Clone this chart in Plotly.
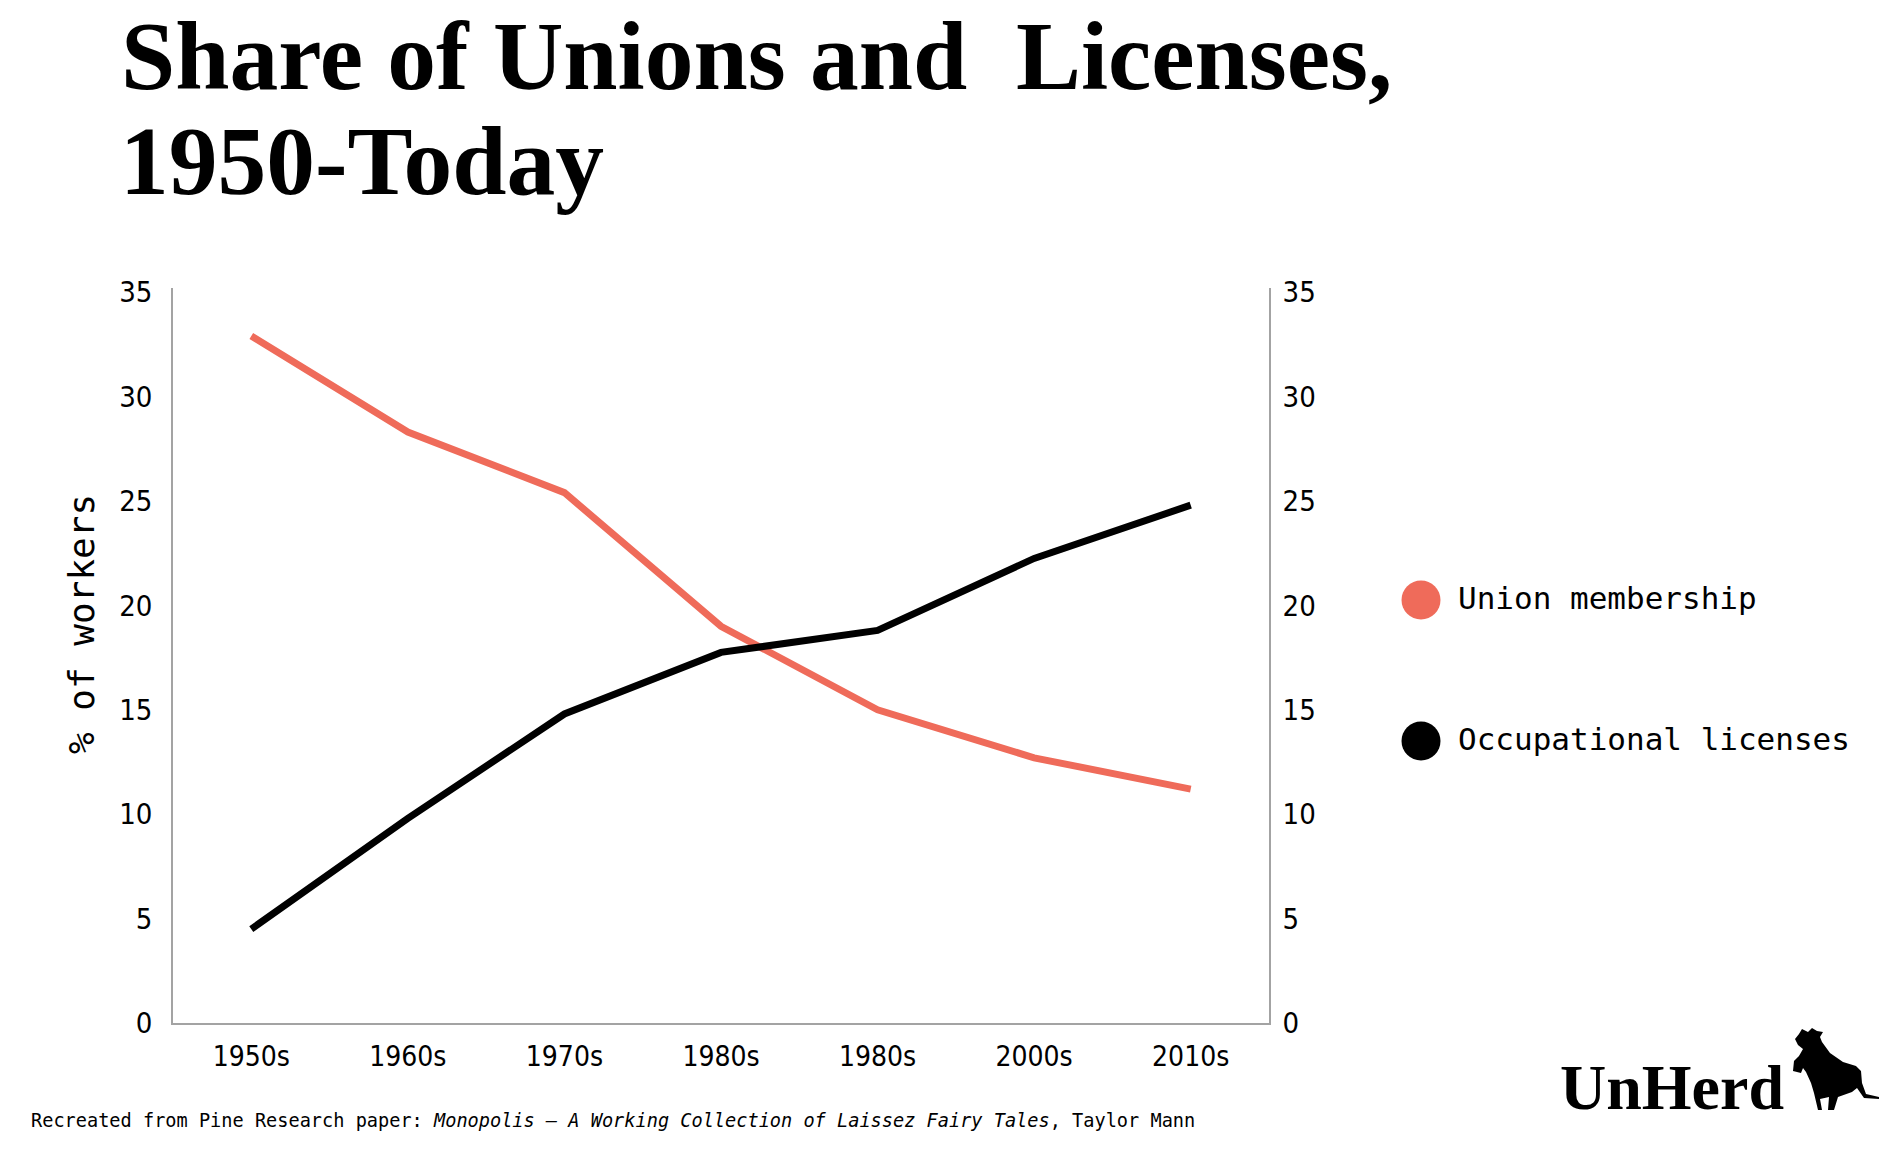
import plotly.graph_objects as go

# ---- data ----
decades = ["1950s", "1960s", "1970s", "1980s", "1980s", "2000s", "2010s"]
union_membership = [32.9, 28.3, 25.4, 19.0, 15.0, 12.7, 11.2]
occupational_licenses = [4.5, 9.8, 14.8, 17.75, 18.8, 22.25, 24.8]
y_ticks = [0, 5, 10, 15, 20, 25, 30, 35]
series_names = ["Union membership", "Occupational licenses"]

# ---- layout geometry (pixels) ----
W, H = 1893, 1168
L, R, T, B = 173, 1269, 288, 1023

def px(x):
    return (x - L) / (R - L)

def py(y):
    return (B - y) / (B - T)

RED = "#ef6b5a"
BLACK = "#000000"
AXIS = "#a3a3a3"
TICK_FONT = "DejaVu Sans Condensed, DejaVu Sans, sans-serif"
MONO = "DejaVu Sans Mono, Liberation Mono, monospace"
SERIF = "Liberation Serif, Times New Roman, serif"

xpos = list(range(len(decades)))

fig = go.Figure()
fig.add_trace(go.Scatter(x=xpos, y=union_membership, mode="lines", name=series_names[0],
                         line=dict(color=RED, width=7), yaxis="y", showlegend=False))
fig.add_trace(go.Scatter(x=xpos, y=occupational_licenses, mode="lines", name=series_names[1],
                         line=dict(color=BLACK, width=7), yaxis="y2", showlegend=False))

yr = [0, 35.2]
fig.update_layout(
    width=W, height=H,
    paper_bgcolor="white", plot_bgcolor="white",
    margin=dict(l=L, r=W - R, t=T, b=H - B, pad=0),
    title=dict(text="Share of Unions and \u00a0Licenses,", x=121 / W, xanchor="left",
               xref="container", yref="container", y=1 - 21 / H, yanchor="top",
               font=dict(family=SERIF, size=97.5, color=BLACK, weight="bold")),
    xaxis=dict(range=[-0.5, 6.5], tickvals=xpos, ticktext=decades, showgrid=False,
               zeroline=False, showline=True, linecolor=AXIS, linewidth=1.5, ticks="",
               ticklabelstandoff=8, tickfont=dict(family=TICK_FONT, size=28, color=BLACK)),
    yaxis=dict(range=yr, tickvals=y_ticks, showgrid=False, zeroline=False, showline=True,
               linecolor=AXIS, linewidth=1.5, ticks="", ticklabelstandoff=13,
               tickfont=dict(family=TICK_FONT, size=29, color=BLACK)),
    yaxis2=dict(range=yr, tickvals=y_ticks, overlaying="y", side="right", showgrid=False,
                zeroline=False, showline=True, linecolor=AXIS, linewidth=1.5, ticks="",
                ticklabelstandoff=6, tickfont=dict(family=TICK_FONT, size=29, color=BLACK)),
)

annotations = [
    dict(text="1950-Today", x=px(118), y=py(194), xref="paper", yref="paper",
         xanchor="left", yanchor="middle", showarrow=False, yshift=33,
         font=dict(family=SERIF, size=97.5, color=BLACK, weight="bold")),
    dict(text="% of workers", x=px(81), y=py(624), xref="paper", yref="paper",
         xanchor="center", yanchor="middle", textangle=-90, showarrow=False,
         font=dict(family=MONO, size=36, color=BLACK)),
    dict(text="Recreated from Pine Research paper: <i>Monopolis \u2013 A Working Collection of Laissez Fairy Tales</i>, Taylor Mann",
         x=px(29), y=py(1120), xref="paper", yref="paper", xanchor="left", yanchor="middle",
         showarrow=False, font=dict(family=MONO, size=18.6, color=BLACK)),
    dict(text="UnHerd", x=px(1558), y=py(1109), xref="paper", yref="paper",
         xanchor="left", yanchor="middle", yshift=22, showarrow=False,
         font=dict(family=SERIF, size=64, color=BLACK, weight="bold")),
]

shapes = []
leg_y = [600, 741]
leg_col = [RED, BLACK]
for name, yy, col in zip(series_names, leg_y, leg_col):
    shapes.append(dict(type="circle", xref="paper", yref="paper",
                       x0=px(1421 - 19.5), x1=px(1421 + 19.5), y0=py(yy + 19.5), y1=py(yy - 19.5),
                       fillcolor=col, line=dict(width=0)))
    annotations.append(dict(text=name, x=px(1456), y=py(yy - 2), xref="paper", yref="paper",
                            xanchor="left", yanchor="middle", showarrow=False,
                            font=dict(family=MONO, size=31, color=BLACK)))

# cow silhouette of the logo (pixel coords)
cow = [(1795,1039),(1799,1034),(1802,1029),(1808,1032),(1812,1028),(1817,1031),(1823,1032),
       (1820,1037),(1822,1042),(1830,1053),(1843,1062),(1856,1066),(1861,1071),(1862,1083),
       (1866,1094),(1879,1097),(1879,1099),(1864,1098),(1857,1088),(1852,1092),(1838,1097),
       (1834,1110),(1828,1110),(1829,1097),(1820,1099),(1822,1110),(1818,1110),(1814,1093),
       (1811,1083),(1806,1072),(1803,1068),(1801,1073),(1793,1071),(1794,1061),(1799,1056),
       (1803,1049),(1798,1045)]
pts = [(px(a), py(b)) for a, b in cow]
path = "M " + " L ".join(f"{a:.5f},{b:.5f}" for a, b in pts) + " Z"
shapes.append(dict(type="path", path=path, xref="paper", yref="paper",
                   fillcolor=BLACK, line=dict(width=0)))

fig.update_layout(annotations=annotations, shapes=shapes)
fig.write_html("out.html", config={"displayModeBar": False},
               post_script="document.body.style.margin='0';")
